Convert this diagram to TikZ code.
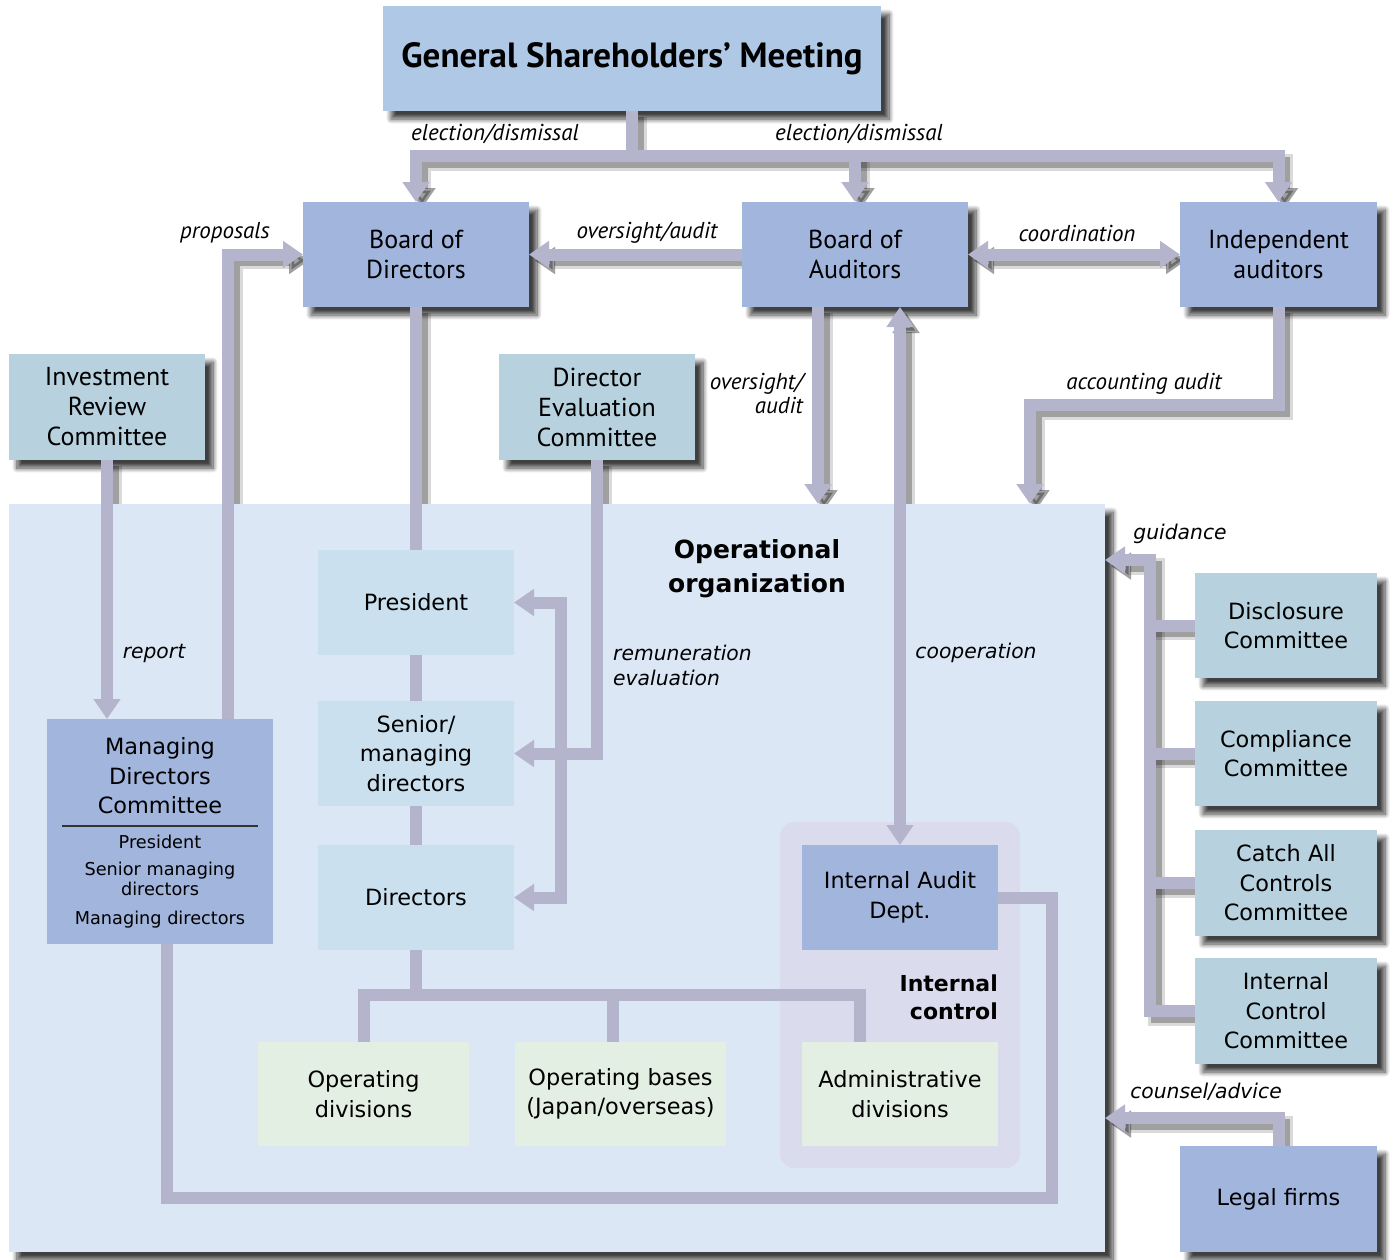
\documentclass[tikz,border=0pt]{standalone}
\usepackage{fontspec}
\setmainfont{PT Sans}
\newfontfamily\wf{DejaVu Sans}
\usetikzlibrary{arrows.meta,shadows.blur,calc}
\pgfdeclarelayer{lsh}\pgfdeclarelayer{boxl}\pgfdeclarelayer{connl}
\pgfsetlayers{lsh,main,boxl,connl}
\definecolor{cgsm}{RGB}{174,200,230}
\definecolor{cdark}{RGB}{162,181,221}
\definecolor{cteal}{RGB}{183,210,222}
\definecolor{cinner}{RGB}{203,224,238}
\definecolor{corg}{RGB}{220,231,246}
\definecolor{cgreen}{RGB}{228,239,228}
\definecolor{cic}{RGB}{218,219,236}
\definecolor{cline}{RGB}{180,180,204}
\tikzset{
  bx/.style={anchor=north west, inner sep=0pt, outer sep=0pt, align=center, text=black},
  shad/.style={blur shadow={shadow xshift=8pt, shadow yshift=-8pt, shadow blur radius=5pt, shadow blur steps=10, shadow opacity=75}},
  conn/.style={draw=cline, line width=12pt},
  lshad/.style={draw=black!80, line width=11pt, opacity=0.35, transform canvas={shift={(6pt,-6pt)}}},
  lshadb/.style={draw=black!80, line width=17pt, opacity=0.18, transform canvas={shift={(6pt,-6pt)}}},
  nar/.style={font=\fontsize{26}{30}\selectfont},
  wid/.style={font=\wf\fontsize{22.4}{29.5}\selectfont},
  lab/.style={font=\itshape\fontsize{23}{24}\selectfont, inner sep=0pt},
  wlab/.style={font=\wf\itshape\fontsize{20.3}{25}\selectfont, inner sep=0pt},
}
\newcommand\mybox[7]{\node[bx,#6,minimum width=#4pt,minimum height=#5pt] (#1) at (#2,#3) {#7};}
\newcommand\outerconns[1]{%
  \draw[#1] (gsm.south) -- (bus);
  \draw[#1,->] (bus) -- (bus -| bod.north) -- (bod.north);
  \draw[#1,->] (bus) -- (bus -| ia.north) -- (ia.north);
  \draw[#1,->] (bus -| boa.north) -- (boa.north);
  \draw[#1,->] (boa.west) -- (bod.east);
  \draw[#1,<->] (boa.east) -- (ia.west);
  \draw[#1,->] (prop) -- (prop |- bod.west) -- (bod.west);
  \draw[#1] (bod.south) -- (pres.north);
  \draw[#1,->] (irc.south) -- (irc.south |- mdc.north);
  \draw[#1,->] (oad) -- (oae);
  \draw[#1,<->] (iad.north) -- (iad.north |- boa.south);
  \draw[#1,->] (ia.south) -- (ia.south |- acc) -- (acc) -- (acce);
  \draw[#1,->] (dec.south) -- (dec.south |- smd.east) -- (smd.east);
  \draw[#1,->] (icc.west) -- (icc.west -| gb) -- (gb) -- (gend);
  \draw[#1] (disc.west) -- (disc.west -| gb);
  \draw[#1] (comp.west) -- (comp.west -| gb);
  \draw[#1] (catch.west) -- (catch.west -| gb);
  \draw[#1,->] (legal.north) -- (legal.north |- cl) -- (cl);
}
\begin{document}
\begin{tikzpicture}[x=1pt,y=-1pt,>={Triangle[width=26pt,length=20pt]}]
\useasboundingbox (0,0) rectangle (1390,1259);
% ---------- regions (main layer) ----------
\mybox{org}{9}{504}{1096}{748}{fill=corg,shad}{}
\node[bx,fill=cic,rounded corners=14pt,minimum width=240pt,minimum height=346pt] (icr) at (780,822) {};
% ---------- boxes ----------
\begin{pgfonlayer}{boxl}
\mybox{gsm}{383}{6}{498}{105}{fill=cgsm,shad,font=\bfseries\fontsize{35}{40}\selectfont}{General Shareholders’ Meeting}
\mybox{bod}{303}{202}{226}{105}{fill=cdark,shad,nar}{Board of\\Directors}
\mybox{boa}{742}{202}{226}{105}{fill=cdark,shad,nar}{Board of\\Auditors}
\mybox{ia}{1180}{202}{197}{105}{fill=cdark,shad,nar}{Independent\\auditors}
\mybox{irc}{9}{354}{196}{106}{fill=cteal,shad,nar}{Investment\\Review\\Committee}
\mybox{dec}{499}{354}{196}{106}{fill=cteal,shad,nar}{Director\\Evaluation\\Committee}
\mybox{pres}{318}{550}{196}{105}{fill=cinner,wid}{President}
\mybox{smd}{318}{701}{196}{105}{fill=cinner,wid}{Senior/\\managing\\directors}
\mybox{dirs}{318}{845}{196}{105}{fill=cinner,wid}{Directors}
\mybox{mdc}{47}{719}{226}{225}{fill=cdark}{}
\mybox{opd}{258}{1042}{211}{104}{fill=cgreen,wid}{Operating\\divisions}
\mybox{opb}{515}{1042}{211}{104}{fill=cgreen,wid}{Operating bases\\(Japan/overseas)}
\mybox{adm}{802}{1042}{196}{104}{fill=cgreen,wid}{Administrative\\divisions}
\mybox{iad}{802}{845}{196}{105}{fill=cdark,wid}{Internal Audit\\Dept.}
\mybox{disc}{1195}{573}{182}{105}{fill=cteal,shad,wid}{Disclosure\\Committee}
\mybox{comp}{1195}{701}{182}{105}{fill=cteal,shad,wid}{Compliance\\Committee}
\mybox{catch}{1195}{830}{182}{106}{fill=cteal,shad,wid}{Catch All\\Controls\\Committee}
\mybox{icc}{1195}{958}{182}{106}{fill=cteal,shad,wid}{Internal\\Control\\Committee}
\mybox{legal}{1180}{1146}{197}{106}{fill=cdark,shad,wid}{Legal firms}
\node[align=center,inner sep=0pt,font=\wf\fontsize{22.4}{29.5}\selectfont] (mdct) at (160,776) {Managing\\Directors\\Committee};
\node[align=center,inner sep=0pt,font=\wf\fontsize{17.7}{20}\selectfont] (mdcs) at (160,882) {President\\[7pt]Senior managing\\directors\\[9pt]Managing directors};
\node[align=center,inner sep=0pt,font=\wf\bfseries\fontsize{25}{34}\selectfont] (orgt) at (757,569) {Operational\\organization};
\node[align=right,inner sep=0pt,anchor=east,font=\wf\bfseries\fontsize{22}{28}\selectfont] (ict) at (998,997) {Internal\\control};
\draw[line width=1.3pt,black!80] ($(mdc.north west)+(15,107)$) -- ($(mdc.north east)+(-15,107)$);
\end{pgfonlayer}
% ---------- coordinates ----------
\coordinate (bus) at (632,156);
\coordinate (prop) at (228,719);
\coordinate (oad) at (818,307);
\coordinate (oae) at (818,504);
\coordinate (acc) at (1030,405);
\coordinate (acce) at (1030,504);
\coordinate (gb) at (1150,560);
\coordinate (gend) at (1105,560);
\coordinate (cl) at (1105,1118);
\coordinate (rem) at (561,600);
\coordinate (db1) at (363.5,995);
\coordinate (db2) at (860,995);
\coordinate (admt) at (860,1042);
\coordinate (opbt) at (613,1042);
\coordinate (ml) at (167,944);
\coordinate (mlc) at (1052,1198);
% ---------- connectors ----------
\begin{pgfonlayer}{lsh}
\outerconns{lshadb}
\outerconns{lshad}
\end{pgfonlayer}
\begin{pgfonlayer}{connl}
\outerconns{conn}
\draw[conn] (pres.south) -- (smd.north);
\draw[conn] (smd.south) -- (dirs.north);
\draw[conn,<->] (pres.east) -- (pres.east -| rem) -- (dirs.east -| rem) -- (dirs.east);
\draw[conn] (dirs.south) -- (dirs.south |- db1);
\draw[conn] (opd.north) -- (db1) -- (db2) -- (admt);
\draw[conn] (opbt |- db1) -- (opbt);
\draw[conn] (ml) -- (ml |- mlc) -- (mlc) -- (mlc |- iad.east) -- (iad.east);
% ---------- labels ----------
\node[lab] (l1) at (495,134) {election/dismissal};
\node[lab] (l2) at (859,134) {election/dismissal};
\node[lab] (l3) at (225,233) {proposals};
\node[lab] (l4) at (647,233) {oversight/audit};
\node[lab] (l5) at (1077,233) {coordination};
\node[lab,align=right,anchor=east] (l6) at (803,393) {oversight/\\audit};
\node[lab] (l7) at (1144,384) {accounting audit};
\node[wlab] (l8) at (154,653) {report};
\node[wlab,align=left,anchor=west] (l9) at (613,665) {remuneration\\evaluation};
\node[wlab] (l10) at (976,653) {cooperation};
\node[wlab] (l11) at (1180,534) {guidance};
\node[wlab] (l12) at (1206,1092) {counsel/advice};
\end{pgfonlayer}
\end{tikzpicture}
\end{document}
